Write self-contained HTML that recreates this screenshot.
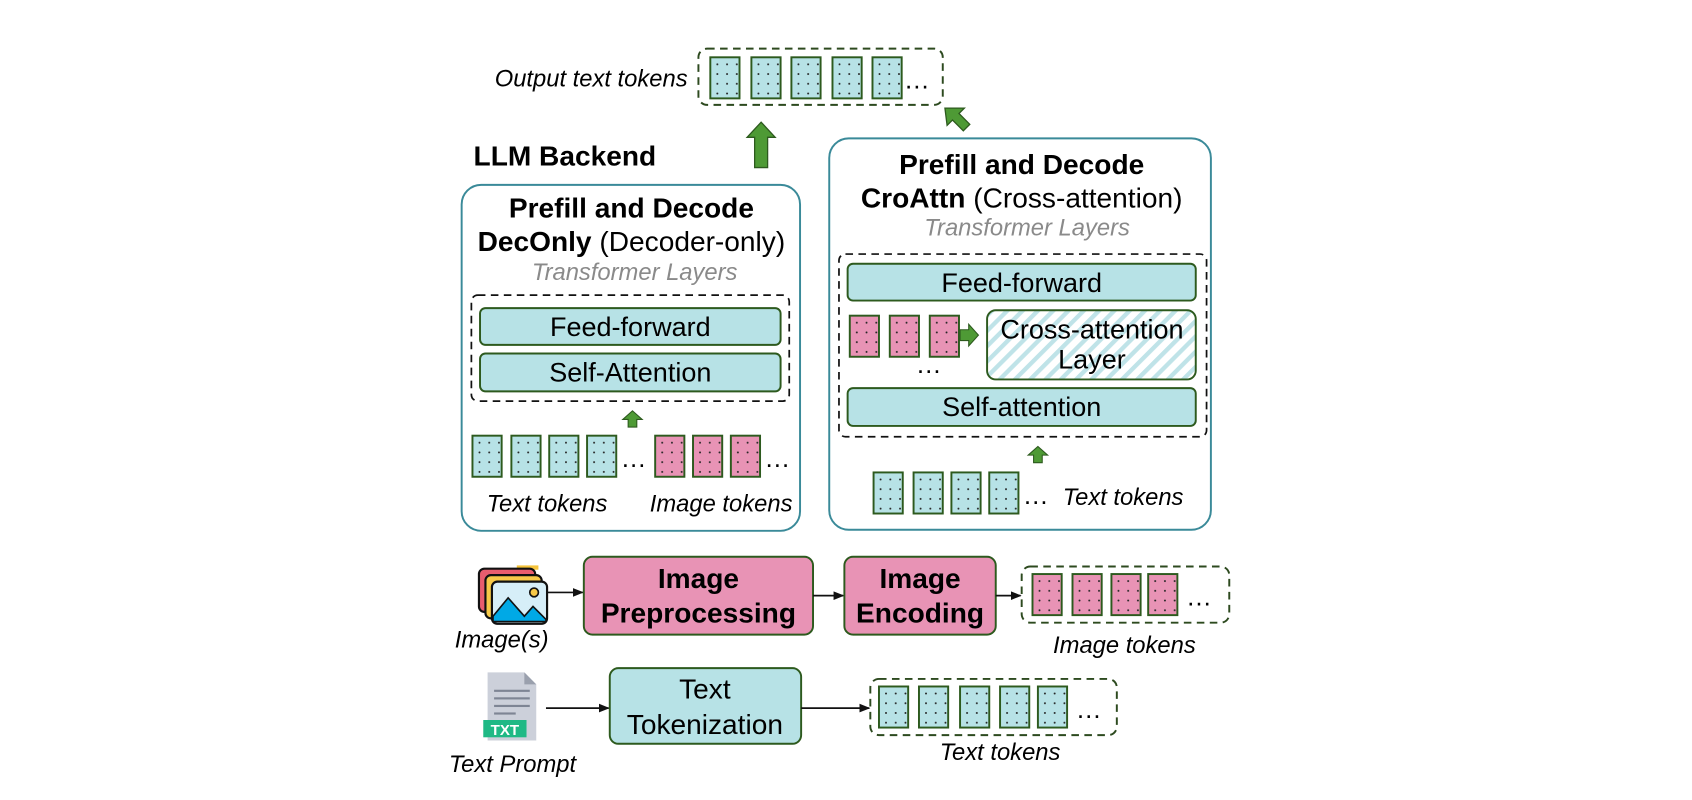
<!DOCTYPE html>
<html><head><meta charset="utf-8"><style>
html,body{margin:0;padding:0;background:#fff}
svg{display:block}
text{font-family:"Liberation Sans",Arial,sans-serif}
</style></head><body>
<svg width="1692" height="800" viewBox="0 0 1565 740" preserveAspectRatio="none" xmlns="http://www.w3.org/2000/svg">
<defs>
<pattern id="dt" width="9" height="9" patternUnits="userSpaceOnUse" x="2" y="2"><rect width="9" height="9" fill="#b7e2e6"/><circle cx="4.5" cy="4.5" r="0.9" fill="#222"/></pattern>
<pattern id="dp" width="9" height="9" patternUnits="userSpaceOnUse" x="2" y="2"><rect width="9" height="9" fill="#e893b5"/><circle cx="4.5" cy="4.5" r="0.9" fill="#222"/></pattern>
<pattern id="hatch" width="10" height="10" patternUnits="userSpaceOnUse" patternTransform="rotate(45)"><rect width="10" height="10" fill="#fff"/><rect width="4" height="10" fill="#bfe3e8"/></pattern>
<marker id="ah" markerWidth="10" markerHeight="10" refX="9" refY="5" orient="auto" markerUnits="userSpaceOnUse"><path d="M0,1 L10,5 L0,9 Z" fill="#111"/></marker>
<g id="tt"><rect width="27" height="38" fill="url(#dt)" stroke="#2d5a1e" stroke-width="1.8"/></g>
<g id="tp"><rect width="27" height="38" fill="url(#dp)" stroke="#2d5a1e" stroke-width="1.8"/></g>
</defs>

<!-- output tokens -->
<text x="636" y="80" font-size="22" font-style="italic" text-anchor="end">Output text tokens</text>
<rect x="646" y="45" width="226" height="52" rx="8" fill="none" stroke="#2d4a1f" stroke-width="1.8" stroke-dasharray="7,5"/>
<use href="#tt" x="657" y="53"/><use href="#tt" x="695" y="53"/><use href="#tt" x="732" y="53"/><use href="#tt" x="770" y="53"/><use href="#tt" x="807" y="53"/>
<text x="836" y="82" font-size="24">…</text>

<path d="M698,155 L698,127 L691,127 L704,113 L717,127 L710,127 L710,155 Z" fill="#4e9a35" stroke="#2d5a1e" stroke-width="1.2"/>
<path d="M874,100 L892,100 L887,105 L897,115 L891,121 L881,111 L876,116 Z" fill="#4e9a35" stroke="#2d5a1e" stroke-width="1.2"/>

<text x="438" y="153" font-size="26" font-weight="bold">LLM Backend</text>

<!-- left box -->
<rect x="427" y="171" width="313" height="320" rx="18" fill="#fff" stroke="#3a8a99" stroke-width="1.8"/>
<text x="584" y="201" font-size="26" font-weight="bold" text-anchor="middle">Prefill and Decode</text>
<text x="584" y="232" font-size="26" text-anchor="middle"><tspan font-weight="bold">DecOnly</tspan> (Decoder-only)</text>
<text x="587" y="259" font-size="22" font-style="italic" fill="#8a8a8a" text-anchor="middle">Transformer Layers</text>
<rect x="436" y="273" width="294" height="98" rx="6" fill="none" stroke="#111" stroke-width="1.6" stroke-dasharray="7,5"/>
<rect x="444" y="285" width="278" height="34" rx="5" fill="#b7e2e6" stroke="#2d5a1e" stroke-width="1.8"/>
<text x="583" y="311" font-size="25" text-anchor="middle">Feed-forward</text>
<rect x="444" y="327" width="278" height="35" rx="5" fill="#b7e2e6" stroke="#2d5a1e" stroke-width="1.8"/>
<text x="583" y="353" font-size="25" text-anchor="middle">Self-Attention</text>
<path d="M581,395 L581,388 L576,388 L585,380 L594,388 L589,388 L589,395 Z" fill="#4e9a35" stroke="#2d5a1e" stroke-width="1"/>
<use href="#tt" x="437" y="403"/><use href="#tt" x="473" y="403"/><use href="#tt" x="508" y="403"/><use href="#tt" x="543" y="403"/>
<text x="574" y="432" font-size="24">…</text>
<use href="#tp" x="606" y="403"/><use href="#tp" x="641" y="403"/><use href="#tp" x="676" y="403"/>
<text x="707" y="432" font-size="24">…</text>
<text x="506" y="473" font-size="22" font-style="italic" text-anchor="middle">Text tokens</text>
<text x="667" y="473" font-size="22" font-style="italic" text-anchor="middle">Image tokens</text>

<!-- right box -->
<rect x="767" y="128" width="353" height="362" rx="18" fill="#fff" stroke="#3a8a99" stroke-width="1.8"/>
<text x="945" y="161" font-size="26" font-weight="bold" text-anchor="middle">Prefill and Decode</text>
<text x="945" y="192" font-size="26" text-anchor="middle"><tspan font-weight="bold">CroAttn</tspan> (Cross-attention)</text>
<text x="950" y="218" font-size="22" font-style="italic" fill="#8a8a8a" text-anchor="middle">Transformer Layers</text>
<rect x="776" y="235" width="340" height="169" rx="6" fill="none" stroke="#111" stroke-width="1.6" stroke-dasharray="7,5"/>
<rect x="784" y="244" width="322" height="34" rx="5" fill="#b7e2e6" stroke="#2d5a1e" stroke-width="1.8"/>
<text x="945" y="270" font-size="25" text-anchor="middle">Feed-forward</text>
<use href="#tp" x="786" y="292"/><use href="#tp" x="823" y="292"/><use href="#tp" x="860" y="292"/>
<text x="847" y="345" font-size="24">…</text>
<path d="M888,305 L896,305 L896,300 L905,310 L896,320 L896,315 L888,315 Z" fill="#4e9a35" stroke="#2d5a1e" stroke-width="1"/>
<rect x="913" y="287" width="193" height="64" rx="8" fill="url(#hatch)" stroke="#2d5a1e" stroke-width="1.8"/>
<text x="1010" y="313" font-size="25" text-anchor="middle">Cross-attention</text>
<text x="1010" y="341" font-size="25" text-anchor="middle">Layer</text>
<rect x="784" y="359" width="322" height="35" rx="5" fill="#b7e2e6" stroke="#2d5a1e" stroke-width="1.8"/>
<text x="945" y="385" font-size="25" text-anchor="middle">Self-attention</text>
<path d="M956,428 L956,421 L951,421 L960,413 L969,421 L964,421 L964,428 Z" fill="#4e9a35" stroke="#2d5a1e" stroke-width="1"/>
<use href="#tt" x="808" y="437"/><use href="#tt" x="845" y="437"/><use href="#tt" x="880" y="437"/><use href="#tt" x="915" y="437"/>
<text x="946" y="466" font-size="24">…</text>
<text x="983" y="467" font-size="22" font-style="italic">Text tokens</text>

<!-- image icon -->
<rect x="478" y="523" width="20" height="4" fill="#f5c33b"/>
<rect x="443" y="526" width="52" height="40" rx="5" fill="#e85d6e" stroke="#111" stroke-width="2"/>
<rect x="449" y="532" width="52" height="40" rx="5" fill="#f7c948" stroke="#111" stroke-width="2"/>
<rect x="455" y="538" width="51" height="39" rx="5" fill="#d6eef8" stroke="#111" stroke-width="2"/>
<path d="M456,570 L470,553 L485,570 L493,561 L505,573 L505,575 L456,575 Z" fill="#00a9e6" stroke="#111" stroke-width="1.5"/>
<circle cx="494" cy="548" r="4" fill="#f7c948" stroke="#111" stroke-width="1.5"/>
<text x="464" y="599" font-size="22" font-style="italic" text-anchor="middle">Image(s)</text>
<line x1="506" y1="548" x2="539" y2="548" stroke="#111" stroke-width="1.6" marker-end="url(#ah)"/>
<rect x="540" y="515" width="212" height="72" rx="8" fill="#e893b5" stroke="#2d5a1e" stroke-width="1.8"/>
<text x="646" y="544" font-size="26" font-weight="bold" text-anchor="middle">Image</text>
<text x="646" y="576" font-size="26" font-weight="bold" text-anchor="middle">Preprocessing</text>
<line x1="752" y1="551" x2="780" y2="551" stroke="#111" stroke-width="1.6" marker-end="url(#ah)"/>
<rect x="781" y="515" width="140" height="72" rx="8" fill="#e893b5" stroke="#2d5a1e" stroke-width="1.8"/>
<text x="851" y="544" font-size="26" font-weight="bold" text-anchor="middle">Image</text>
<text x="851" y="576" font-size="26" font-weight="bold" text-anchor="middle">Encoding</text>
<line x1="921" y1="551" x2="944" y2="551" stroke="#111" stroke-width="1.6" marker-end="url(#ah)"/>
<rect x="945" y="524" width="192" height="52" rx="8" fill="none" stroke="#2d4a1f" stroke-width="1.8" stroke-dasharray="7,5"/>
<use href="#tp" x="955" y="531"/><use href="#tp" x="992" y="531"/><use href="#tp" x="1028" y="531"/><use href="#tp" x="1062" y="531"/>
<text x="1097" y="560" font-size="24">…</text>
<text x="1040" y="604" font-size="22" font-style="italic" text-anchor="middle">Image tokens</text>

<!-- txt icon -->
<path d="M451,622 L485,622 L496,633 L496,685 L451,685 Z" fill="#ccd0da"/>
<path d="M485,622 L485,633 L496,633 Z" fill="#9aa0ad"/>
<rect x="457" y="638" width="33" height="2" fill="#7e8594"/>
<rect x="457" y="645" width="33" height="2" fill="#7e8594"/>
<rect x="457" y="652" width="33" height="2" fill="#7e8594"/>
<rect x="457" y="659" width="20" height="2" fill="#7e8594"/>
<rect x="447" y="666" width="40" height="16" fill="#1fb985"/>
<text x="467" y="680" font-size="14" font-weight="bold" fill="#fff" text-anchor="middle">TXT</text>
<text x="474" y="714" font-size="22" font-style="italic" text-anchor="middle">Text Prompt</text>
<line x1="505" y1="655" x2="563" y2="655" stroke="#111" stroke-width="1.6" marker-end="url(#ah)"/>
<rect x="564" y="618" width="177" height="70" rx="8" fill="#b7e2e6" stroke="#2d5a1e" stroke-width="1.8"/>
<text x="652" y="646" font-size="26" text-anchor="middle">Text</text>
<text x="652" y="679" font-size="26" text-anchor="middle">Tokenization</text>
<line x1="741" y1="655" x2="804" y2="655" stroke="#111" stroke-width="1.6" marker-end="url(#ah)"/>
<rect x="805" y="628" width="228" height="52" rx="8" fill="none" stroke="#2d4a1f" stroke-width="1.8" stroke-dasharray="7,5"/>
<use href="#tt" x="813" y="635"/><use href="#tt" x="850" y="635"/><use href="#tt" x="888" y="635"/><use href="#tt" x="925" y="635"/><use href="#tt" x="960" y="635"/>
<text x="995" y="664" font-size="24">…</text>
<text x="925" y="703" font-size="22" font-style="italic" text-anchor="middle">Text tokens</text>
</svg>
</body></html>
